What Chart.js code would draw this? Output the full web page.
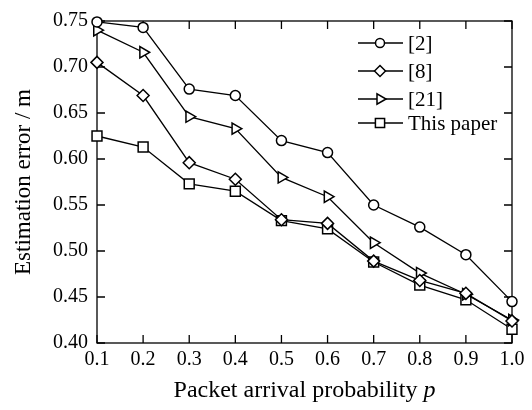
<!DOCTYPE html>
<html>
<head>
<meta charset="utf-8">
<script src="https://cdn.jsdelivr.net/npm/chart.js@4.4.1/dist/chart.umd.min.js"></script>
<style>
  html, body { margin: 0; padding: 0; background: #fff; }
  #wrap { width: 532px; height: 410px; }
</style>
</head>
<body>
<div id="wrap"><canvas id="chart"></canvas></div>
<script>
// ── Data ──────────────────────────────────────────────────
const probs     = [0.1, 0.2, 0.3, 0.4, 0.5, 0.6, 0.7, 0.8, 0.9, 1.0];
const xTicks    = [0.1, 0.2, 0.3, 0.4, 0.5, 0.6, 0.7, 0.8, 0.9, 1.0];
const yTicks    = [0.40, 0.45, 0.50, 0.55, 0.60, 0.65, 0.70, 0.75];

const err2      = [0.749, 0.743, 0.676, 0.669, 0.620, 0.607, 0.550, 0.526, 0.496, 0.445];
const err8      = [0.705, 0.669, 0.596, 0.578, 0.534, 0.530, 0.489, 0.468, 0.454, 0.424];
const err21     = [0.740, 0.716, 0.646, 0.633, 0.580, 0.559, 0.509, 0.476, 0.453, 0.425];
const errOurs   = [0.625, 0.613, 0.573, 0.565, 0.533, 0.524, 0.488, 0.463, 0.447, 0.415];

const names     = ['[2]', '[8]', '[21]', 'This paper'];
const series    = [err2, err8, err21, errOurs];
const markers   = [
  { style: 'circle',   radius: 5,   rotation: 0 },
  { style: 'rectRot',  radius: 6,   rotation: 0 },
  { style: 'triangle', radius: 6.5, rotation: 90 },
  { style: 'rect',     radius: 7,   rotation: 0 }
];

const SERIF = '"Liberation Serif", "Times New Roman", serif';

// ── Frame, inward ticks, x title, legend ──────────────────
const framePlugin = {
  id: 'frame',
  beforeDatasetsDraw(chart) {
    const { ctx, chartArea: a, scales: { x, y } } = chart;
    ctx.save();
    ctx.strokeStyle = '#000';
    ctx.lineWidth = 1.3;
    ctx.strokeRect(a.left, a.top, a.right - a.left, a.bottom - a.top);
    ctx.beginPath();
    x.ticks.forEach(t => {
      const px = x.getPixelForValue(t.value);
      ctx.moveTo(px, a.bottom); ctx.lineTo(px, a.bottom - 8);
      ctx.moveTo(px, a.top);    ctx.lineTo(px, a.top + 8);
    });
    y.ticks.forEach(t => {
      const py = y.getPixelForValue(t.value);
      ctx.moveTo(a.left, py);  ctx.lineTo(a.left + 8, py);
      ctx.moveTo(a.right, py); ctx.lineTo(a.right - 8, py);
    });
    ctx.stroke();
    ctx.restore();
  },
  afterDraw(chart) {
    const { ctx, chartArea: a } = chart;
    ctx.save();
    ctx.fillStyle = '#000';

    // x axis title with italic p
    const main = 'Packet arrival probability ';
    ctx.font = '24px ' + SERIF;
    const w1 = ctx.measureText(main).width;
    ctx.font = 'italic 24px ' + SERIF;
    const w2 = ctx.measureText('p').width;
    let sx = (a.left + a.right) / 2 - (w1 + w2) / 2;
    ctx.textBaseline = 'alphabetic';
    ctx.font = '24px ' + SERIF;
    ctx.fillText(main, sx, 397);
    ctx.font = 'italic 24px ' + SERIF;
    ctx.fillText('p', sx + w1, 397);

    // legend
    const rows = [43, 71, 99, 123];
    ctx.font = '21px ' + SERIF;
    ctx.textBaseline = 'middle';
    names.forEach((name, i) => {
      const ly = rows[i];
      ctx.strokeStyle = '#000';
      ctx.lineWidth = 1.3;
      ctx.beginPath();
      ctx.moveTo(358, ly); ctx.lineTo(403, ly);
      ctx.stroke();
      ctx.fillStyle = '#fff';
      ctx.strokeStyle = '#000';
      ctx.lineWidth = 1.5;
      Chart.helpers.drawPoint(ctx, {
        pointStyle: markers[i].style,
        radius: markers[i].radius - 0.5,
        rotation: markers[i].rotation,
        borderWidth: 1.5
      }, 380, ly);
      ctx.fillStyle = '#000';
      ctx.fillText(name, 408, ly + 1);
    });
    ctx.restore();
  }
};

// ── Chart ─────────────────────────────────────────────────
const datasets = series.map((vals, i) => ({
  label: names[i],
  data: probs.map((p, j) => ({ x: p, y: vals[j] })),
  borderColor: '#000',
  borderWidth: 1.3,
  backgroundColor: '#fff',
  pointStyle: markers[i].style,
  pointRadius: markers[i].radius,
  pointRotation: markers[i].rotation,
  pointBorderWidth: 1.5,
  pointBackgroundColor: '#fff',
  pointBorderColor: '#000',
  tension: 0,
  clip: false
}));

new Chart(document.getElementById('chart'), {
  type: 'line',
  data: { datasets },
  options: {
    responsive: true,
    maintainAspectRatio: false,
    animation: false,
    layout: { padding: { top: 16, right: 20, left: 0, bottom: 0 } },
    plugins: { legend: { display: false }, tooltip: { enabled: false } },
    scales: {
      x: {
        type: 'linear',
        min: 0.1,
        max: 1.0,
        afterBuildTicks: s => { s.ticks = xTicks.map(v => ({ value: v })); },
        afterFit: s => { s.height = 67; },
        grid: { display: false, drawTicks: false },
        border: { display: false },
        ticks: {
          color: '#000',
          font: { family: SERIF, size: 20 },
          padding: 5,
          maxRotation: 0,
          autoSkip: false,
          callback: v => Number(v).toFixed(1)
        }
      },
      y: {
        type: 'linear',
        min: 0.40,
        max: 0.75,
        afterBuildTicks: s => { s.ticks = yTicks.map(v => ({ value: v })); },
        afterFit: s => { s.width = 97; },
        grid: { display: false, drawTicks: false },
        border: { display: false },
        title: {
          display: true,
          text: 'Estimation error / m',
          color: '#000',
          font: { family: SERIF, size: 23 },
          padding: { top: 10, bottom: 0 }
        },
        ticks: {
          color: '#000',
          font: { family: SERIF, size: 20 },
          padding: 9,
          autoSkip: false,
          callback: v => Number(v).toFixed(2)
        }
      }
    }
  },
  plugins: [framePlugin]
});
</script>
</body>
</html>
